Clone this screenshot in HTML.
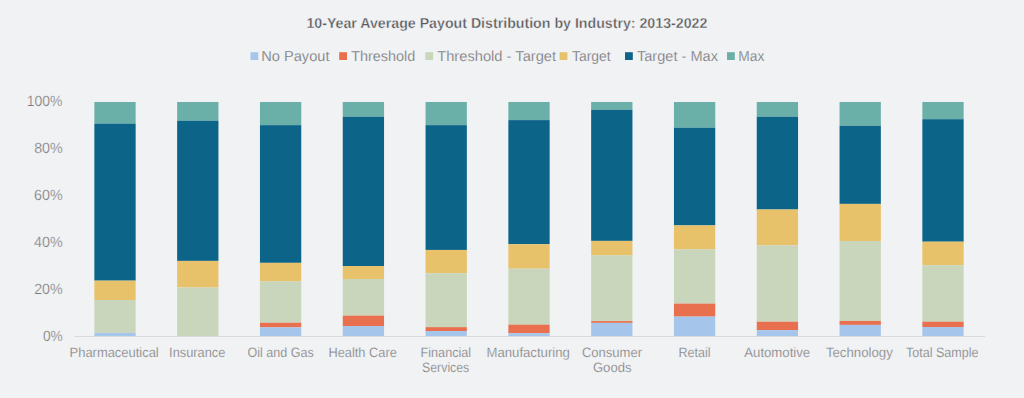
<!DOCTYPE html>
<html><head><meta charset="utf-8"><style>
html,body{margin:0;padding:0;background:#f1f2f4;overflow:hidden;}
svg{display:block;}
text{font-family:"Liberation Sans",sans-serif;white-space:pre;text-rendering:geometricPrecision;}
</style></head><body>
<svg width="1024" height="398" viewBox="0 0 1024 398">
<rect width="1024" height="398" fill="#f1f2f4"/>
<rect x="94.35" y="102.00" width="41.30" height="21.60" fill="#6aafa8"/>
<rect x="94.35" y="123.60" width="41.30" height="157.05" fill="#0d6489"/>
<rect x="94.35" y="280.65" width="41.30" height="19.40" fill="#e8c26a"/>
<rect x="94.35" y="300.05" width="41.30" height="32.85" fill="#c9d6bc"/>
<rect x="94.35" y="332.90" width="41.30" height="3.10" fill="#a6c5eb"/>
<rect x="177.15" y="102.00" width="41.30" height="18.75" fill="#6aafa8"/>
<rect x="177.15" y="120.75" width="41.30" height="140.15" fill="#0d6489"/>
<rect x="177.15" y="260.90" width="41.30" height="26.60" fill="#e8c26a"/>
<rect x="177.15" y="287.50" width="41.30" height="48.50" fill="#c9d6bc"/>
<rect x="259.95" y="102.00" width="41.30" height="23.15" fill="#6aafa8"/>
<rect x="259.95" y="125.15" width="41.30" height="137.70" fill="#0d6489"/>
<rect x="259.95" y="262.85" width="41.30" height="18.55" fill="#e8c26a"/>
<rect x="259.95" y="281.40" width="41.30" height="41.35" fill="#c9d6bc"/>
<rect x="259.95" y="322.75" width="41.30" height="4.60" fill="#e8704f"/>
<rect x="259.95" y="327.35" width="41.30" height="8.65" fill="#a6c5eb"/>
<rect x="342.75" y="102.00" width="41.30" height="14.70" fill="#6aafa8"/>
<rect x="342.75" y="116.70" width="41.30" height="149.30" fill="#0d6489"/>
<rect x="342.75" y="266.00" width="41.30" height="13.00" fill="#e8c26a"/>
<rect x="342.75" y="279.00" width="41.30" height="36.65" fill="#c9d6bc"/>
<rect x="342.75" y="315.65" width="41.30" height="10.35" fill="#e8704f"/>
<rect x="342.75" y="326.00" width="41.30" height="10.00" fill="#a6c5eb"/>
<rect x="425.55" y="102.00" width="41.30" height="23.15" fill="#6aafa8"/>
<rect x="425.55" y="125.15" width="41.30" height="124.80" fill="#0d6489"/>
<rect x="425.55" y="249.95" width="41.30" height="23.35" fill="#e8c26a"/>
<rect x="425.55" y="273.30" width="41.30" height="53.85" fill="#c9d6bc"/>
<rect x="425.55" y="327.15" width="41.30" height="3.90" fill="#e8704f"/>
<rect x="425.55" y="331.05" width="41.30" height="4.95" fill="#a6c5eb"/>
<rect x="508.35" y="102.00" width="41.30" height="18.10" fill="#6aafa8"/>
<rect x="508.35" y="120.10" width="41.30" height="124.10" fill="#0d6489"/>
<rect x="508.35" y="244.20" width="41.30" height="24.45" fill="#e8c26a"/>
<rect x="508.35" y="268.65" width="41.30" height="56.00" fill="#c9d6bc"/>
<rect x="508.35" y="324.65" width="41.30" height="8.50" fill="#e8704f"/>
<rect x="508.35" y="333.15" width="41.30" height="2.85" fill="#a6c5eb"/>
<rect x="591.15" y="102.00" width="41.30" height="7.80" fill="#6aafa8"/>
<rect x="591.15" y="109.80" width="41.30" height="131.10" fill="#0d6489"/>
<rect x="591.15" y="240.90" width="41.30" height="14.50" fill="#e8c26a"/>
<rect x="591.15" y="255.40" width="41.30" height="65.70" fill="#c9d6bc"/>
<rect x="591.15" y="321.10" width="41.30" height="1.80" fill="#e8704f"/>
<rect x="591.15" y="322.90" width="41.30" height="13.10" fill="#a6c5eb"/>
<rect x="673.95" y="102.00" width="41.30" height="25.70" fill="#6aafa8"/>
<rect x="673.95" y="127.70" width="41.30" height="97.70" fill="#0d6489"/>
<rect x="673.95" y="225.40" width="41.30" height="24.00" fill="#e8c26a"/>
<rect x="673.95" y="249.40" width="41.30" height="54.20" fill="#c9d6bc"/>
<rect x="673.95" y="303.60" width="41.30" height="13.00" fill="#e8704f"/>
<rect x="673.95" y="316.60" width="41.30" height="19.40" fill="#a6c5eb"/>
<rect x="756.75" y="102.00" width="41.30" height="14.70" fill="#6aafa8"/>
<rect x="756.75" y="116.70" width="41.30" height="92.80" fill="#0d6489"/>
<rect x="756.75" y="209.50" width="41.30" height="35.85" fill="#e8c26a"/>
<rect x="756.75" y="245.35" width="41.30" height="76.35" fill="#c9d6bc"/>
<rect x="756.75" y="321.70" width="41.30" height="8.40" fill="#e8704f"/>
<rect x="756.75" y="330.10" width="41.30" height="5.90" fill="#a6c5eb"/>
<rect x="839.55" y="102.00" width="41.30" height="23.80" fill="#6aafa8"/>
<rect x="839.55" y="125.80" width="41.30" height="78.10" fill="#0d6489"/>
<rect x="839.55" y="203.90" width="41.30" height="37.10" fill="#e8c26a"/>
<rect x="839.55" y="241.00" width="41.30" height="79.95" fill="#c9d6bc"/>
<rect x="839.55" y="320.95" width="41.30" height="3.95" fill="#e8704f"/>
<rect x="839.55" y="324.90" width="41.30" height="11.10" fill="#a6c5eb"/>
<rect x="922.35" y="102.00" width="41.30" height="17.20" fill="#6aafa8"/>
<rect x="922.35" y="119.20" width="41.30" height="122.50" fill="#0d6489"/>
<rect x="922.35" y="241.70" width="41.30" height="23.60" fill="#e8c26a"/>
<rect x="922.35" y="265.30" width="41.30" height="56.40" fill="#c9d6bc"/>
<rect x="922.35" y="321.70" width="41.30" height="5.30" fill="#e8704f"/>
<rect x="922.35" y="327.00" width="41.30" height="9.00" fill="#a6c5eb"/>
<rect x="74" y="336" width="911" height="1" fill="#d9dadc"/>
<rect x="250.5" y="52.2" width="7.8" height="7.8" fill="#a6c5eb"/>
<rect x="339.2" y="52.2" width="7.8" height="7.8" fill="#e8704f"/>
<rect x="425.3" y="52.2" width="7.8" height="7.8" fill="#c9d6bc"/>
<rect x="559.6" y="52.2" width="7.8" height="7.8" fill="#e8c26a"/>
<rect x="625" y="52.2" width="7.8" height="7.8" fill="#0d6489"/>
<rect x="727" y="52.2" width="7.8" height="7.8" fill="#6aafa8"/>
<text id="title" x="306.40" y="28.00" font-size="14.40" font-weight="bold" fill="#58585a" stroke="#f1f2f4" stroke-width="0.35" textLength="400.93" lengthAdjust="spacingAndGlyphs">10-Year Average Payout Distribution by Industry: 2013-2022</text>
<text id="leg0" x="261.20" y="61.00" font-size="14.50" fill="#6f6f71" stroke="#f1f2f4" stroke-width="0.25" textLength="68.34" lengthAdjust="spacingAndGlyphs">No Payout</text>
<text id="leg1" x="351.18" y="61.00" font-size="14.50" fill="#6f6f71" stroke="#f1f2f4" stroke-width="0.25" textLength="64.16" lengthAdjust="spacingAndGlyphs">Threshold</text>
<text id="leg2" x="437.18" y="61.00" font-size="14.50" fill="#6f6f71" stroke="#f1f2f4" stroke-width="0.25" textLength="118.96" lengthAdjust="spacingAndGlyphs">Threshold - Target</text>
<text id="leg3" x="571.91" y="61.00" font-size="14.50" fill="#6f6f71" stroke="#f1f2f4" stroke-width="0.25" textLength="38.79" lengthAdjust="spacingAndGlyphs">Target</text>
<text id="leg4" x="636.97" y="61.00" font-size="14.50" fill="#6f6f71" stroke="#f1f2f4" stroke-width="0.25" textLength="81.06" lengthAdjust="spacingAndGlyphs">Target - Max</text>
<text id="leg5" x="738.35" y="61.00" font-size="14.50" fill="#6f6f71" stroke="#f1f2f4" stroke-width="0.25" textLength="26.08" lengthAdjust="spacingAndGlyphs">Max</text>
<text id="y0" x="26.68" y="106.00" font-size="14.80" fill="#78787a" stroke="#f1f2f4" stroke-width="0.25" textLength="35.67" lengthAdjust="spacingAndGlyphs">100%</text>
<text id="y1" x="34.13" y="153.00" font-size="14.80" fill="#78787a" stroke="#f1f2f4" stroke-width="0.25" textLength="28.62" lengthAdjust="spacingAndGlyphs">80%</text>
<text id="y2" x="34.11" y="200.00" font-size="14.80" fill="#78787a" stroke="#f1f2f4" stroke-width="0.25" textLength="28.59" lengthAdjust="spacingAndGlyphs">60%</text>
<text id="y3" x="34.03" y="247.00" font-size="14.80" fill="#78787a" stroke="#f1f2f4" stroke-width="0.25" textLength="28.70" lengthAdjust="spacingAndGlyphs">40%</text>
<text id="y4" x="34.13" y="294.00" font-size="14.80" fill="#78787a" stroke="#f1f2f4" stroke-width="0.25" textLength="28.57" lengthAdjust="spacingAndGlyphs">20%</text>
<text id="y5" x="42.88" y="341.00" font-size="14.80" fill="#78787a" stroke="#f1f2f4" stroke-width="0.25" textLength="19.78" lengthAdjust="spacingAndGlyphs">0%</text>
<text id="x0" x="69.59" y="357.00" font-size="13.60" fill="#78787a" stroke="#f1f2f4" stroke-width="0.25" textLength="89.15" lengthAdjust="spacingAndGlyphs">Pharmaceutical</text>
<text id="x1" x="169.09" y="357.00" font-size="13.60" fill="#78787a" stroke="#f1f2f4" stroke-width="0.25" textLength="56.34" lengthAdjust="spacingAndGlyphs">Insurance</text>
<text id="x2" x="247.60" y="357.00" font-size="13.60" fill="#78787a" stroke="#f1f2f4" stroke-width="0.25" textLength="66.08" lengthAdjust="spacingAndGlyphs">Oil and Gas</text>
<text id="x3" x="328.52" y="357.00" font-size="13.60" fill="#78787a" stroke="#f1f2f4" stroke-width="0.25" textLength="68.25" lengthAdjust="spacingAndGlyphs">Health Care</text>
<text id="x4" x="420.55" y="357.00" font-size="13.60" fill="#78787a" stroke="#f1f2f4" stroke-width="0.25" textLength="50.58" lengthAdjust="spacingAndGlyphs">Financial</text>
<text id="x5" x="486.49" y="357.00" font-size="13.60" fill="#78787a" stroke="#f1f2f4" stroke-width="0.25" textLength="83.35" lengthAdjust="spacingAndGlyphs">Manufacturing</text>
<text id="x6" x="581.98" y="357.00" font-size="13.60" fill="#78787a" stroke="#f1f2f4" stroke-width="0.25" textLength="60.04" lengthAdjust="spacingAndGlyphs">Consumer</text>
<text id="x7" x="678.57" y="357.00" font-size="13.60" fill="#78787a" stroke="#f1f2f4" stroke-width="0.25" textLength="31.99" lengthAdjust="spacingAndGlyphs">Retail</text>
<text id="x8" x="744.29" y="357.00" font-size="13.60" fill="#78787a" stroke="#f1f2f4" stroke-width="0.25" textLength="65.85" lengthAdjust="spacingAndGlyphs">Automotive</text>
<text id="x9" x="825.90" y="357.00" font-size="13.60" fill="#78787a" stroke="#f1f2f4" stroke-width="0.25" textLength="66.94" lengthAdjust="spacingAndGlyphs">Technology</text>
<text id="x10" x="905.96" y="357.00" font-size="13.60" fill="#78787a" stroke="#f1f2f4" stroke-width="0.25" textLength="72.61" lengthAdjust="spacingAndGlyphs">Total Sample</text>
<text id="x4b" x="422.07" y="372.00" font-size="13.60" fill="#78787a" stroke="#f1f2f4" stroke-width="0.25" textLength="47.21" lengthAdjust="spacingAndGlyphs">Services</text>
<text id="x6b" x="592.91" y="372.00" font-size="13.60" fill="#78787a" stroke="#f1f2f4" stroke-width="0.25" textLength="38.62" lengthAdjust="spacingAndGlyphs">Goods</text>
</svg>
</body></html>
